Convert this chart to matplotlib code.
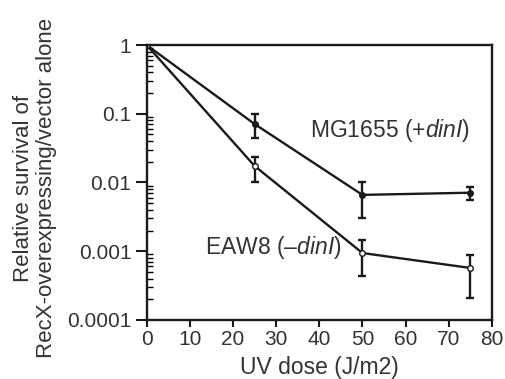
import matplotlib
matplotlib.use("Agg")
import matplotlib.pyplot as plt
from matplotlib.ticker import LogLocator, FixedLocator, NullFormatter

dose = [0, 25, 50, 75]
mg_vals = [1.0, 0.071, 0.0066, 0.0071]
mg_lo = [1.0, 0.044, 0.003, 0.0056]
mg_hi = [1.0, 0.10, 0.010, 0.0086]
eaw_vals = [1.0, 0.0174, 0.00094, 0.00057]
eaw_lo = [1.0, 0.0101, 0.00043, 0.00021]
eaw_hi = [1.0, 0.0235, 0.00145, 0.00088]
ytick_vals = [1, 0.1, 0.01, 0.001, 0.0001]
ytick_labels = ["1", "0.1", "0.01", "0.001", "0.0001"]
xtick_vals = [0, 10, 20, 30, 40, 50, 60, 70, 80]

plt.rcParams['font.family'] = ['Liberation Sans', 'DejaVu Sans']
plt.rcParams['mathtext.fontset'] = 'custom'
plt.rcParams['mathtext.rm'] = 'Liberation Sans'
plt.rcParams['mathtext.it'] = 'Liberation Sans:italic'

TXT = '#333333'
fig = plt.figure(figsize=(5.06, 3.79), dpi=100)
ax = fig.add_axes([0.290, 0.156, 0.682, 0.725])

def err(v, lo, hi):
    return [[a - b for a, b in zip(v, lo)], [b - a for a, b in zip(v, hi)]]

ax.errorbar(dose, mg_vals, yerr=err(mg_vals, mg_lo, mg_hi), color='#1a1a1a', lw=1.7,
            marker='o', ms=4, mfc='#1a1a1a', mec='#1a1a1a', capsize=3, capthick=1.7, elinewidth=1.7)
ax.errorbar(dose, eaw_vals, yerr=err(eaw_vals, eaw_lo, eaw_hi), color='#1a1a1a', lw=1.7,
            marker='o', ms=4, mfc='white', mec='#1a1a1a', capsize=3, capthick=1.7, elinewidth=1.7)

ax.set_yscale('log')
ax.set_ylim(0.0001, 1)
ax.set_xlim(0, 80)
ax.yaxis.set_major_locator(FixedLocator(ytick_vals))
ax.set_yticklabels(ytick_labels)
ax.yaxis.set_minor_locator(LogLocator(base=10, subs=range(2, 10)))
ax.yaxis.set_minor_formatter(NullFormatter())
ax.set_xticks(xtick_vals)
ax.tick_params(axis='both', labelsize=15, labelcolor=TXT, color='#1a1a1a', width=1.5,
               direction='out')
ax.tick_params(axis='y', which='major', length=8, pad=3)
ax.tick_params(axis='x', which='major', length=5, pad=2)
ax.tick_params(axis='y', which='minor', length=4, width=1.0, direction='in')
ax.tick_params(axis='x', which='minor', length=0)
for s in ax.spines.values():
    s.set_linewidth(1.7)
    s.set_color('#1a1a1a')

ax.set_xlabel("UV dose (J/m2)", fontsize=16.5, color=TXT, labelpad=5)
ax.set_ylabel("Relative survival of\nRecX-overexpressing/vector alone", fontsize=16, color=TXT,
              linespacing=1.15)
ax.yaxis.set_label_coords(-0.26, 0.48)

ax.text(37.8, 0.058, r"MG1655 (+$\mathit{dinI}$)", fontsize=16.5, color=TXT, va='center', ha='left')
ax.text(13.4, 0.00112, "EAW8 (\u2013" + r"$\mathit{dinI}$)", fontsize=16.5, color=TXT, va='center', ha='left')

fig.savefig("out.png", dpi=100)
